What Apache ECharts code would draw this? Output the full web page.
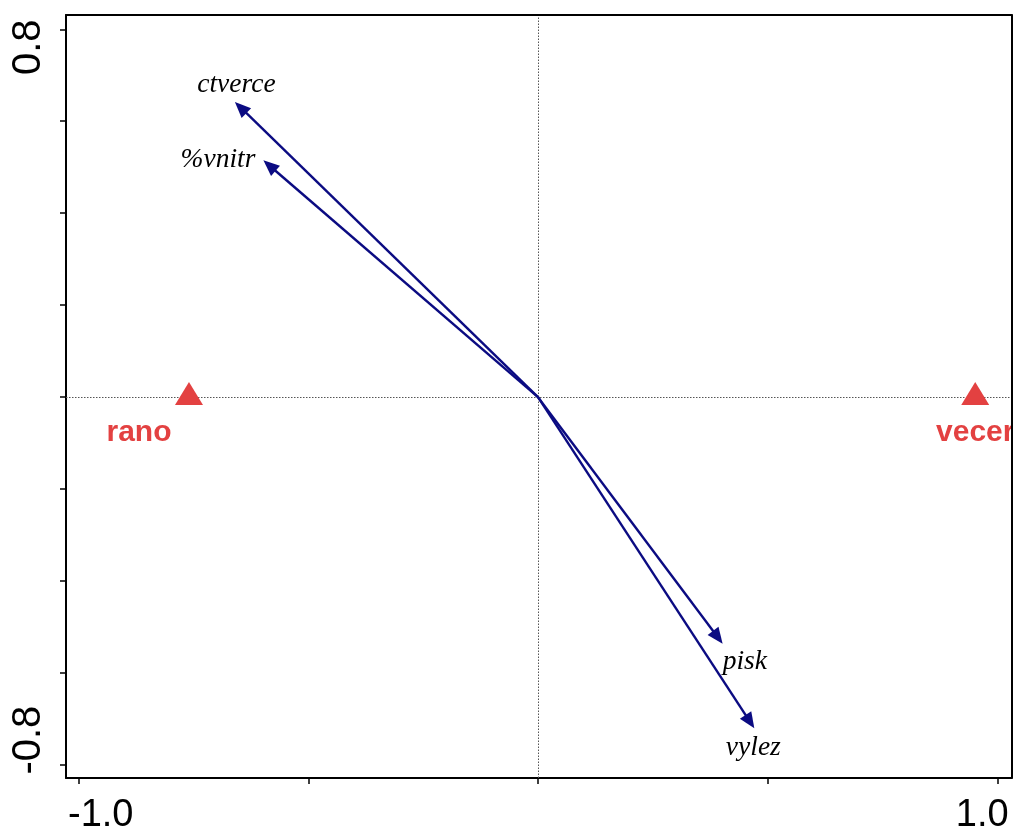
<!DOCTYPE html>
<html><head><meta charset="utf-8">
<script src="https://cdn.jsdelivr.net/npm/echarts@6/dist/echarts.min.js"></script>
<style>html,body{margin:0;padding:0;background:#fff}#c{width:1013px;height:832px}</style>
</head><body><div id="c"></div>
<script>
// ---- data ----
const arrowNames = ['ctverce', '%vnitr', 'pisk', 'vylez'];
const arrowX = [-0.660, -0.598, 0.402, 0.471];
const arrowY = [0.642, 0.515, -0.536, -0.720];
const sampleNames = ['rano', 'vecer'];
const sampleX = [-0.760, 0.952];
const sampleY = [0.008, 0.008];
const xTicks = [-1.0, -0.5, 0, 0.5, 1.0];
const xTickLabels = [-1.0, 1.0];
const yTicks = [-0.8, -0.6, -0.4, -0.2, 0, 0.2, 0.4, 0.6, 0.8];
const yTickLabels = [-0.8, 0.8];

// ---- styles ----
const ARROW_COL = '#0B0B82';
const RED = '#E34141';
const arrowLabelStyle = {
  'ctverce': {dx: 1.5, dy: -17.5, align: 'center'},
  '%vnitr': {dx: -8, dy: -0.5, align: 'right'},
  'pisk': {dx: 0, dy: 18, align: 'left'},
  'vylez': {dx: -1, dy: 19.5, align: 'center'}
};
const sampleLabelOffset = {'rano': [-50, 39], 'vecer': [0, 39]};

const chart = echarts.init(document.getElementById('c'), null, {renderer: 'canvas'});
const XMIN = -1.0278, XMAX = 1.031, YMIN = -0.828, YMAX = 0.831;
const axisLineStyle = {color: '#000', width: 2};

const option = {
  animation: false,
  backgroundColor: '#fff',
  grid: {left: 66, right: 1.5, top: 15, bottom: 54, containLabel: false, outerBoundsMode: 'none'},
  xAxis: [{
    type: 'value', min: XMIN, max: XMAX, position: 'bottom',
    axisLine: {show: true, onZero: false, lineStyle: axisLineStyle},
    axisTick: {show: true, customValues: xTicks, length: 6, lineStyle: {color: '#000', width: 1.5}},
    axisLabel: {
      show: true, customValues: xTickLabels, margin: 19,
      formatter: v => (v < 0 ? '{l|' : '{r|') + v.toFixed(1) + '}',
      rich: {
        l: {fontSize: 38, fontFamily: 'Liberation Sans', color: '#000', padding: [0, 0, 0, 44]},
        r: {fontSize: 38, fontFamily: 'Liberation Sans', color: '#000', padding: [0, 30, 0, 0]}
      }
    },
    splitLine: {show: false}
  }, {
    type: 'value', min: XMIN, max: XMAX, position: 'top', z: 10,
    axisLine: {show: true, onZero: false, lineStyle: axisLineStyle},
    axisTick: {show: false}, axisLabel: {show: false}, splitLine: {show: false}
  }],
  yAxis: [{
    type: 'value', min: YMIN, max: YMAX, position: 'left',
    axisLine: {show: true, onZero: false, lineStyle: axisLineStyle},
    axisTick: {show: true, customValues: yTicks, length: 6, lineStyle: {color: '#000', width: 1.5}},
    axisLabel: {
      show: true, customValues: yTickLabels, margin: 17, rotate: 90,
      formatter: v => (v > 0 ? '{t|' : '{b|') + v.toFixed(1) + '}',
      rich: {
        t: {fontSize: 40, fontFamily: 'Liberation Sans', color: '#000', padding: [0, 36, 0, 0]},
        b: {fontSize: 40, fontFamily: 'Liberation Sans', color: '#000', padding: [0, 0, 0, 50]}
      }
    },
    splitLine: {show: false}
  }, {
    type: 'value', min: YMIN, max: YMAX, position: 'right', z: 10,
    axisLine: {show: true, onZero: false, lineStyle: axisLineStyle},
    axisTick: {show: false}, axisLabel: {show: false}, splitLine: {show: false}
  }],
  series: [{
    type: 'custom',
    clip: false,
    z: 3,
    data: arrowX.map((x, i) => [x, arrowY[i]]),
    renderItem: function (params, api) {
      const x = api.value(0), y = api.value(1);
      const p0 = api.coord([0, 0]);
      const p1 = api.coord([x, y]);
      const dx = p1[0] - p0[0], dy = p1[1] - p0[1];
      const L = Math.hypot(dx, dy);
      const ux = dx / L, uy = dy / L;
      const hl = 16, hw = 6.8;
      const bx = p1[0] - ux * hl, by = p1[1] - uy * hl;
      const name = arrowNames[params.dataIndex];
      const lo = arrowLabelStyle[name];
      return {
        type: 'group',
        children: [
          {type: 'line', shape: {x1: p0[0], y1: p0[1], x2: bx + ux * 2, y2: by + uy * 2},
           style: {stroke: ARROW_COL, lineWidth: 2.4}},
          {type: 'polygon', shape: {points: [[p1[0], p1[1]], [bx - uy * hw, by + ux * hw], [bx + uy * hw, by - ux * hw]]},
           style: {fill: ARROW_COL}},
          {type: 'text', x: p1[0] + lo.dx, y: p1[1] + lo.dy,
           style: {text: name, font: 'italic 27.5px "Liberation Serif"', fill: '#000', align: lo.align, verticalAlign: 'middle'}}
        ]
      };
    }
  }, {
    type: 'scatter',
    z: 4,
    symbol: 'triangle',
    symbolSize: [28, 23],
    itemStyle: {color: RED, opacity: 1},
    data: sampleNames.map((n, i) => ({name: n, value: [sampleX[i], sampleY[i]], label: {offset: sampleLabelOffset[n]}})),
    label: {
      show: true, position: 'inside', formatter: p => p.name, opacity: 1,
      fontSize: 30, fontWeight: 'bold', fontFamily: 'Liberation Sans', color: RED
    },
    markLine: {
      silent: true, symbol: 'none', z: 1,
      label: {show: false},
      lineStyle: {color: '#555', width: 1, type: [1.5, 1.5], opacity: 1},
      data: [{xAxis: 0}, {yAxis: 0}]
    }
  }]
};
chart.setOption(option);
</script>
</body></html>
